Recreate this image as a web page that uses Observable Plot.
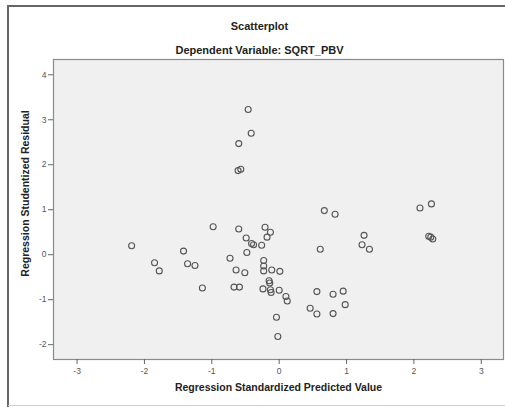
<!DOCTYPE html>
<html>
<head>
<meta charset="utf-8">
<script src="https://cdn.jsdelivr.net/npm/d3@7"></script>
<script src="https://cdn.jsdelivr.net/npm/@observablehq/plot@0.6"></script>
<style>
  html, body { margin: 0; padding: 0; background: #fff; }
  #chart { position: absolute; left: 0; top: 0; }
</style>
</head>
<body>
<div id="chart"></div>
<script>
const predicted = [
  -0.46, -0.415, -0.60, -0.61, -0.57, -0.98, -0.60, -0.21, -0.13, -0.18,
  -0.49, -0.41, -0.38, -0.26, -2.19, -1.42, -0.48, -0.73, -1.85, -1.36,
  -1.25, -0.23, -0.23, -0.23, -0.11, 0.01, -0.64, -0.51, -1.78, -0.15,
  -0.14, -1.14, -0.67, -0.59, -0.24, -0.13, -0.12, 0.00, 0.10, 0.12,
  -0.04, -0.02, 0.67, 0.83, 0.61, 1.26, 1.23, 1.34, 2.09, 2.26,
  2.22, 2.25, 2.28, 0.56, 0.80, 0.95, 0.98, 0.46, 0.56, 0.80
];
const residual = [
  3.23, 2.70, 2.47, 1.87, 1.90, 0.62, 0.57, 0.61, 0.50, 0.39,
  0.37, 0.25, 0.22, 0.21, 0.20, 0.08, 0.05, -0.08, -0.18, -0.20,
  -0.24, -0.13, -0.25, -0.36, -0.34, -0.37, -0.34, -0.40, -0.36, -0.58,
  -0.63, -0.74, -0.72, -0.72, -0.76, -0.78, -0.84, -0.79, -0.93, -1.03,
  -1.39, -1.82, 0.98, 0.90, 0.12, 0.43, 0.22, 0.12, 1.04, 1.13,
  0.41, 0.39, 0.35, -0.82, -0.88, -0.81, -1.11, -1.19, -1.32, -1.31
];
const xTicks = [-3, -2, -1, 0, 1, 2, 3];
const yTicks = [-2, -1, 0, 1, 2, 3, 4];
const titleText = "Scatterplot";
const subtitleText = "Dependent Variable: SQRT_PBV";
const xLabel = "Regression Standardized Predicted Value";
const yLabel = "Regression Studentized Residual";

const points = predicted.map((x, i) => ({x, y: residual[i]}));

const fontFam = "'Liberation Sans', Arial, Helvetica, sans-serif";
const fmt = d => String(d);

const chart = Plot.plot({
  width: 505,
  height: 407,
  marginLeft: 53,
  marginRight: 2,
  marginTop: 59,
  marginBottom: 48,
  style: {fontFamily: fontFam, background: "#fff", overflow: "visible"},
  x: {domain: [-3.35, 3.33]},
  y: {domain: [-2.33, 4.34]},
  marks: [
    Plot.frame({fill: "#f0f0f0", stroke: "#8a8a8a", strokeWidth: 1.2}),
    Plot.axisX({ticks: xTicks, tickFormat: fmt, tickSize: 5, tickPadding: 3, fontSize: 8.5, label: null, stroke: "#666", fill: "#555"}),
    Plot.axisY({ticks: yTicks, tickFormat: fmt, tickSize: 5, tickPadding: 2, fontSize: 8.5, label: null, stroke: "#666", fill: "#555"}),
    Plot.dot(points, {x: "x", y: "y", r: 3, stroke: "#555", strokeWidth: 1.1, fill: "none"}),
    Plot.text([titleText], {frameAnchor: "top", dx: -19, dy: -37, fontSize: 11, fontWeight: "bold", fill: "#222"}),
    Plot.text([subtitleText], {frameAnchor: "top", dx: -19, dy: -13, fontSize: 11, fontWeight: "bold", fill: "#222"}),
    Plot.text([xLabel], {frameAnchor: "bottom", dy: 31, fontSize: 10.5, fontWeight: "bold", fill: "#222"}),
    Plot.text([yLabel], {frameAnchor: "left", textAnchor: "middle", rotate: -90, dx: -28, dy: -16, fontSize: 10.5, fontWeight: "bold", fill: "#222"})
  ]
});

const svg = d3.select(chart);
svg.append("path")
  .attr("d", "M8,407 V6 H505")
  .attr("fill", "none")
  .attr("stroke", "#666")
  .attr("stroke-width", 2);
svg.append("line")
  .attr("x1", 8).attr("x2", 505).attr("y1", 405.5).attr("y2", 405.5)
  .attr("stroke", "#cfcfcf").attr("stroke-width", 1);

document.getElementById("chart").appendChild(chart);
</script>
</body>
</html>
